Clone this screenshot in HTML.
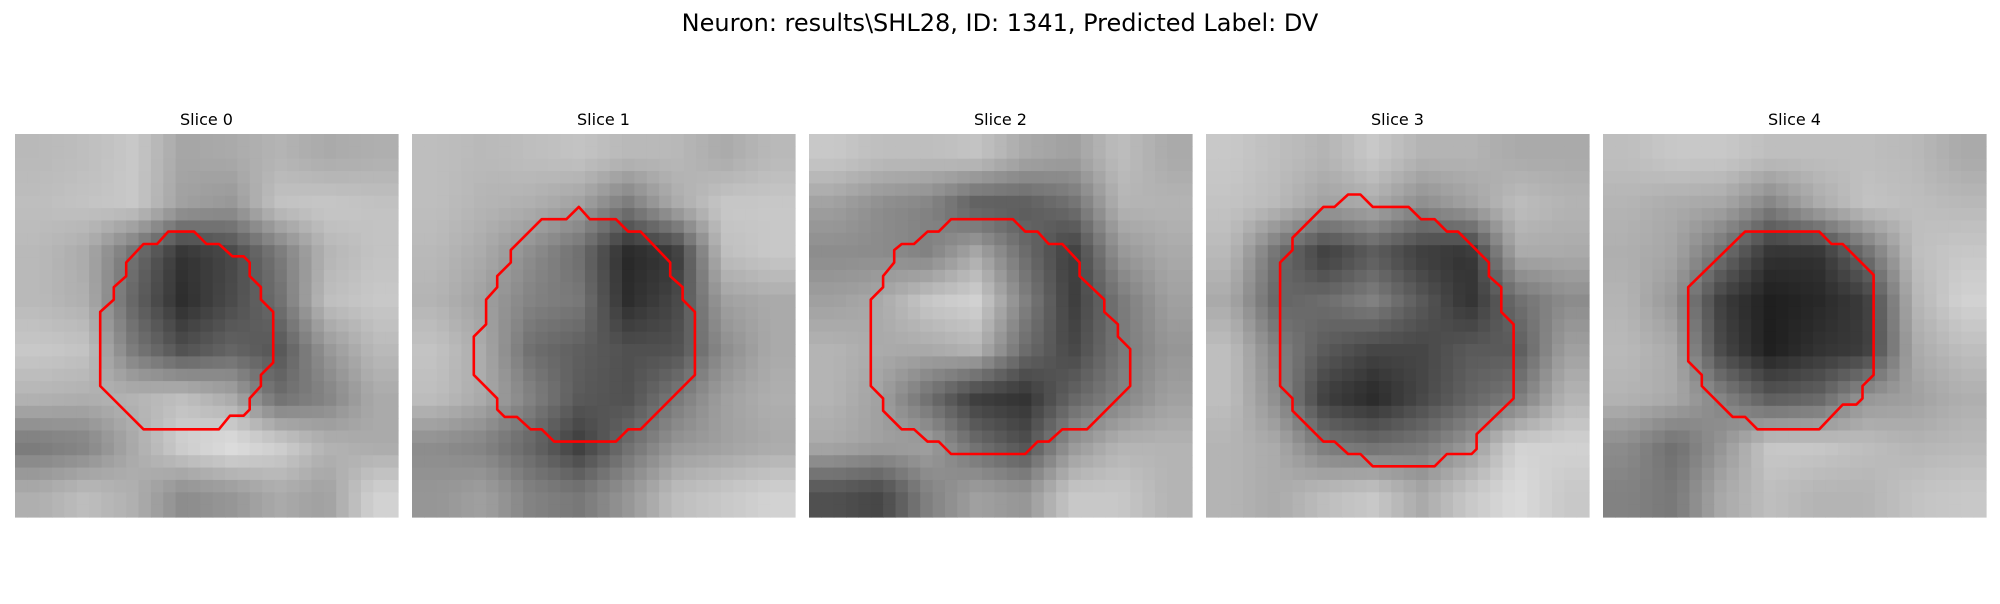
<!DOCTYPE html>
<html><head><meta charset="utf-8"><style>
body{margin:0;background:#fff;width:2000px;height:600px;overflow:hidden;font-family:"DejaVu Sans","Liberation Sans",sans-serif}
</style></head><body>
<svg id="fig" width="2000" height="600" xmlns="http://www.w3.org/2000/svg">
<rect width="2000" height="600" fill="#fff"/>
<text x="1000" y="31" text-anchor="middle" font-size="24" fill="#000" font-family="DejaVu Sans, Liberation Sans, sans-serif">Neuron: results\SHL28, ID: 1341, Predicted Label: DV</text>
</svg>
<script>
const sliceTitles=["Slice 0","Slice 1","Slice 2","Slice 3","Slice 4"];
const grid0=[[185,190,200,165,170,180,170,175],[190,195,200,160,150,195,200,195],[185,170,110,50,70,120,180,195],[185,175,100,45,75,110,190,200],[200,195,120,80,100,85,150,185],[180,175,180,190,170,110,130,170],[120,130,170,210,225,210,180,170],[175,190,175,140,150,170,160,210]];
const grid1=[[190,185,190,195,185,185,170,185],[190,180,175,160,120,170,200,200],[185,170,140,110,40,55,190,200],[180,160,130,120,45,70,160,170],[195,170,110,95,80,80,140,170],[190,170,130,90,80,120,160,175],[140,130,100,60,110,150,160,170],[150,160,130,120,150,190,200,210]];
const grid2=[[200,190,190,195,170,160,190,170],[160,140,130,90,90,110,180,180],[140,140,130,170,110,60,150,170],[160,170,200,210,130,60,120,160],[180,170,170,180,110,70,120,150],[180,160,110,60,50,100,130,160],[170,160,160,110,80,150,180,180],[80,70,130,160,150,200,200,180]];
const grid3=[[200,190,180,200,180,180,170,170],[195,185,160,170,140,160,190,180],[185,110,60,90,60,50,170,170],[170,100,110,130,90,50,110,140],[190,130,90,70,70,90,90,160],[190,140,60,40,70,100,120,180],[180,170,120,110,120,150,210,210],[180,170,190,200,170,200,220,200]];
const grid4=[[190,200,200,190,190,190,185,170],[180,170,165,130,170,195,190,185],[175,165,110,50,50,110,190,200],[180,150,60,30,40,60,180,210],[185,170,70,30,50,60,170,190],[180,170,130,90,100,150,160,175],[140,110,150,200,200,190,180,185],[130,120,170,190,180,180,195,200]];
const contour0=[[12.4,7.9],[14.5,7.9],[15.5,8.9],[16.5,8.9],[17.6,9.9],[18.5,9.9],[19,10.4],[19,11.5],[19.9,12.4],[19.9,13.4],[20.9,14.4],[20.9,18.5],[19.9,19.5],[19.9,20.4],[19,21.4],[19,22.3],[18.5,22.8],[17.4,22.8],[16.5,23.9],[10.4,23.9],[6.9,20.4],[6.9,14.4],[8,13.4],[8,12.4],[9,11.5],[9,10.4],[10.4,8.9],[11.5,8.9]];
const contour1=[[10.5,6.9],[12.5,6.9],[13.5,5.9],[14.4,6.9],[16.5,6.9],[17.5,7.9],[18.5,7.9],[20.9,10.4],[20.9,11.5],[21.9,12.4],[21.9,13.4],[22.9,14.4],[22.9,19.5],[18.5,23.9],[17.5,23.9],[16.5,24.9],[11.5,24.9],[10.5,23.9],[9.6,23.9],[8.5,22.9],[7.5,22.9],[6.9,22.3],[6.9,21.4],[5,19.5],[5,16.4],[6,15.4],[6,13.4],[6.9,12.4],[6.9,11.5],[8,10.4],[8,9.4]];
const contour2=[[11.5,6.9],[16.5,6.9],[17.5,7.9],[18.5,7.9],[19.4,8.9],[20.5,8.9],[21.9,10.4],[21.9,11.5],[23.9,13.4],[23.9,14.4],[25,15.4],[25,16.4],[26,17.4],[26,20.4],[22.5,23.9],[20.5,23.9],[19.4,24.9],[18.5,24.9],[17.5,25.9],[11.5,25.9],[10.5,24.9],[9.6,24.9],[8.5,23.9],[7.5,23.9],[6,22.4],[6,21.4],[5,20.4],[5,13.4],[6,12.4],[6,11.5],[6.9,10.4],[6.9,9.4],[7.5,8.9],[8.5,8.9],[9.6,7.9],[10.5,7.9]];
const contour3=[[11.5,4.9],[12.5,4.9],[13.5,5.9],[16.4,5.9],[17.4,6.9],[18.5,6.9],[19.5,7.9],[20.4,7.9],[22.9,10.4],[22.9,11.5],[23.9,12.4],[23.9,14.4],[24.9,15.4],[24.9,21.4],[21.9,24.3],[21.9,25.5],[21.5,25.9],[19.5,25.9],[18.5,26.9],[13.5,26.9],[12.5,25.9],[11.5,25.9],[10.4,24.9],[9.5,24.9],[7,22.4],[7,21.4],[6,20.4],[6,10.4],[7,9.4],[7,8.4],[9.5,5.9],[10.4,5.9]];
const contour4=[[11.5,7.9],[17.5,7.9],[18.5,8.9],[19.4,8.9],[21.9,11.4],[21.9,19.5],[21,20.4],[21,21.4],[20.5,21.9],[19.4,21.9],[17.5,23.9],[12.5,23.9],[11.5,22.9],[10.5,22.9],[8,20.4],[8,19.5],[6.9,18.4],[6.9,12.4]];
const grids=[grid0,grid1,grid2,grid3,grid4];
const contours=[contour0,contour1,contour2,contour3,contour4];

const NS="http://www.w3.org/2000/svg";
const svg=document.getElementById('fig');
const panelX=[15,412,809,1206,1603], panelY=134, panelW=383, N=31;
const cell=panelW/N;
function sample(g,fx,fy){const n=g.length;let x=Math.max(0,Math.min(n-1,fx)),y=Math.max(0,Math.min(n-1,fy));
 const x0=Math.floor(x),y0=Math.floor(y),x1=Math.min(n-1,x0+1),y1=Math.min(n-1,y0+1),tx=x-x0,ty=y-y0;
 return (g[y0][x0]*(1-tx)+g[y0][x1]*tx)*(1-ty)+(g[y1][x0]*(1-tx)+g[y1][x1]*tx)*ty;}
grids.forEach((g,k)=>{
 const grp=document.createElementNS(NS,'g');
 
 
 svg.appendChild(grp);
 const t=document.createElementNS(NS,'text');
 
 
 t.setAttribute('x',panelX[k]+panelW/2);t.setAttribute('y',125);
 t.setAttribute('text-anchor','middle');t.setAttribute('font-size','16');
 t.setAttribute('font-family','DejaVu Sans, Liberation Sans, sans-serif');
 t.textContent=sliceTitles[k];grp.appendChild(t);
 const n=g.length;
 for(let r=0;r<N;r++)for(let c=0;c<N;c++){
  const v=Math.round(sample(g,(c+0.5)/N*n-0.5,(r+0.5)/N*n-0.5));
  const rc=document.createElementNS(NS,'rect');
  
  
  rc.setAttribute('x',(panelX[k]+c*cell).toFixed(2));rc.setAttribute('y',(panelY+r*cell).toFixed(2));
  rc.setAttribute('width',(cell+0.6).toFixed(2));rc.setAttribute('height',(cell+0.6).toFixed(2));
  rc.setAttribute('fill','rgb('+v+','+v+','+v+')');grp.appendChild(rc);
 }
 const p=document.createElementNS(NS,'polygon');
 
 
 p.setAttribute('points',contours[k].map(q=>(panelX[k]+q[0]*cell).toFixed(1)+','+(panelY+q[1]*cell).toFixed(1)).join(' '));
 p.setAttribute('fill','none');p.setAttribute('stroke','#ff0000');p.setAttribute('stroke-width','2.6');p.setAttribute('stroke-linejoin','round');
 grp.appendChild(p);
});
</script>
</body></html>
